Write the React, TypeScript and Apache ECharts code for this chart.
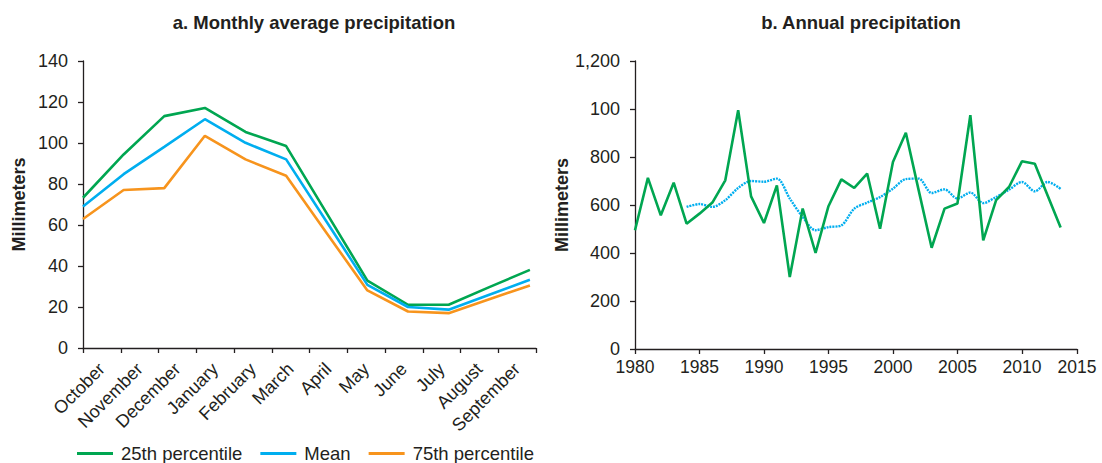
import React, { useEffect, useRef } from "react";
import * as echarts from "echarts";

const months = ["October", "November", "December", "January", "February", "March", "April", "May", "June", "July", "August", "September"];
const p25 = [73.3, 94.4, 113.1, 117.1, 105.4, 98.5, 65.7, 32.9, 21.1, 21.1, 29.7, 38.1];
const meanMonthly = [69, 84.8, 98.1, 111.6, 100.1, 92, 61.5, 30.8, 20, 18.7, 26, 33.3];
const p75 = [62.9, 77.1, 78, 103.5, 92, 84, 56, 28.1, 17.8, 17, 23.8, 30.5];
const leftYTicks = [0, 20, 40, 60, 80, 100, 120, 140];

const years = [1980, 1981, 1982, 1983, 1984, 1985, 1986, 1987, 1988, 1989, 1990, 1991, 1992, 1993, 1994, 1995, 1996, 1997, 1998, 1999, 2000, 2001, 2002, 2003, 2004, 2005, 2006, 2007, 2008, 2009, 2010, 2011, 2012, 2013];
const annual = [495, 713, 557, 693, 522, 564, 610, 703, 995, 636, 525, 682, 300, 585, 400, 595, 707, 671, 731, 501, 779, 901, 660, 422, 585, 606, 974, 453, 620, 675, 782, 772, 639, 506];
const movingAvg = [null, null, null, null, 592, 604, 592, 620, 671, 700, 697, 710, 627, 550, 495, 508, 515, 585, 610, 633, 668, 708, 710, 650, 665, 627, 652, 608, 633, 664, 696, 657, 696, 667];
const rightYLabels = ["0", "200", "400", "600", "800", "100", "1,200"];
const yearTickEndLabel = "2015";

const FONT = "'Liberation Sans', Arial, Helvetica, sans-serif";
const TXT = "#231f20";
const GREEN = "#00a651";
const BLUE = "#00aeef";
const ORANGE = "#f7941d";

export default function App() {
  const ref = useRef<HTMLDivElement>(null);
  useEffect(() => {
    if (!ref.current) return;
    const chart = echarts.init(ref.current, null, { renderer: "svg" });
    const axisLine = { show: true, lineStyle: { color: TXT, width: 1.3 } };
    const axisTick = { show: true, length: 5, lineStyle: { color: TXT, width: 1.3 } };
    const xMaxYear = 2014.27;
    const titleStyle = { fontSize: 18.5, fontWeight: "bold", color: TXT, fontFamily: FONT };
    const nameStyle = { fontSize: 18, fontWeight: "bold", color: TXT, fontFamily: FONT };
    const tickFont = { fontSize: 18, color: TXT, fontFamily: FONT };
    chart.setOption({
      animation: false,
      textStyle: { fontFamily: FONT, color: TXT },
      title: [
        { text: "a. Monthly average precipitation", left: 309, top: 8, textAlign: "center", textStyle: titleStyle },
        { text: "b. Annual precipitation", left: 856, top: 8, textAlign: "center", textStyle: titleStyle },
      ],
      legend: {
        data: ["25th percentile", "Mean", "75th percentile"],
        left: 72,
        top: 439,
        icon: "rect",
        itemWidth: 36,
        itemHeight: 3,
        itemGap: 18,
        textStyle: { fontSize: 18.5, color: TXT, fontFamily: FONT, padding: [0, 0, 0, 3] },
      },
      grid: [
        { left: 83, top: 61, width: 453, height: 287, containLabel: false },
        { left: 635, top: 61, width: 442, height: 288, containLabel: false },
      ],
      xAxis: [
        {
          type: "category",
          gridIndex: 0,
          data: months,
          boundaryGap: true,
          axisLine,
          axisTick: { ...axisTick, interval: 0 },
          axisLabel: { ...tickFont, interval: 0, rotate: 45, margin: 18 },
        },
        { type: "value", gridIndex: 0, min: 0, max: 11.15, show: false },
        {
          type: "value",
          gridIndex: 1,
          min: 1980,
          max: xMaxYear,
          interval: 5,
          axisLine,
          axisTick,
          splitLine: { show: false },
          axisLabel: {
            ...tickFont,
            fontSize: 17.5,
            margin: 9,
            showMaxLabel: true,
            formatter: (v: number) => (v > 2012 ? yearTickEndLabel : String(v)),
          },
        },
      ],
      yAxis: [
        {
          type: "value",
          gridIndex: 0,
          min: leftYTicks[0],
          max: leftYTicks[leftYTicks.length - 1],
          interval: 20,
          axisLine,
          axisTick,
          splitLine: { show: false },
          axisLabel: { ...tickFont, margin: 15 },
          name: "Millimeters",
          nameLocation: "middle",
          nameRotate: 90,
          nameGap: 55,
          nameTextStyle: nameStyle,
        },
        {
          type: "value",
          gridIndex: 1,
          min: 0,
          max: 1200,
          interval: 200,
          axisLine,
          axisTick,
          splitLine: { show: false },
          axisLabel: {
            ...tickFont,
            margin: 15,
            formatter: (v: number) => rightYLabels[Math.round(v / 200)],
          },
          name: "Millimeters",
          nameLocation: "middle",
          nameRotate: 90,
          nameGap: 61,
          nameTextStyle: nameStyle,
        },
      ],
      series: [
        {
          name: "25th percentile",
          type: "line",
          xAxisIndex: 1,
          yAxisIndex: 0,
          symbol: "none",
          color: GREEN,
          lineStyle: { color: GREEN, width: 2.6 },
          data: months.map((_, i) => [i, p25[i]]),
        },
        {
          name: "Mean",
          type: "line",
          xAxisIndex: 1,
          yAxisIndex: 0,
          symbol: "none",
          color: BLUE,
          lineStyle: { color: BLUE, width: 2.6 },
          data: months.map((_, i) => [i, meanMonthly[i]]),
        },
        {
          name: "75th percentile",
          type: "line",
          xAxisIndex: 1,
          yAxisIndex: 0,
          symbol: "none",
          color: ORANGE,
          lineStyle: { color: ORANGE, width: 2.6 },
          data: months.map((_, i) => [i, p75[i]]),
        },
        {
          name: "Moving average",
          type: "line",
          xAxisIndex: 2,
          yAxisIndex: 1,
          symbol: "none",
          smooth: 0.3,
          color: BLUE,
          lineStyle: { color: BLUE, width: 2.4, type: [2, 1] },
          data: years.map((y, i) => [y, movingAvg[i]]).filter((d) => d[1] !== null),
        },
        {
          name: "Annual",
          type: "line",
          xAxisIndex: 2,
          yAxisIndex: 1,
          symbol: "none",
          color: GREEN,
          lineStyle: { color: GREEN, width: 2.6 },
          data: years.map((y, i) => [y, annual[i]]),
        },
      ],
    });
    return () => chart.dispose();
  }, []);
  return <div ref={ref} style={{ position: "fixed", left: 0, top: 0, width: 1102, height: 463, background: "#fff" }} />;
}
